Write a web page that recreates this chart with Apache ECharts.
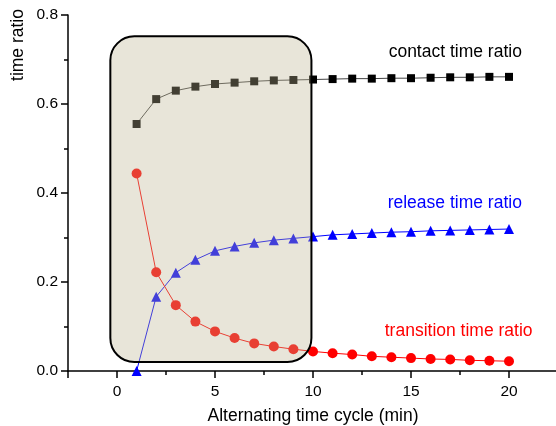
<!DOCTYPE html>
<html>
<head>
<meta charset="utf-8">
<script src="https://cdn.jsdelivr.net/npm/echarts@6/dist/echarts.min.js"></script>
<style>
    html, body { margin: 0; padding: 0; background: #fff; }
    #chart { width: 556px; height: 426px; }
</style>
</head>
<body>
<div id="chart"></div>
<script>
const FONT = 'Liberation Sans, Arial, sans-serif'

// x: alternating time cycle (min)
const cycles = [1, 2, 3, 4, 5, 6, 7, 8, 9, 10, 11, 12, 13, 14, 15, 16, 17, 18, 19, 20]
const contactRatio = [0.555, 0.611, 0.630, 0.639, 0.645, 0.648, 0.651, 0.653, 0.654, 0.655,
    0.656, 0.657, 0.657, 0.658, 0.658, 0.659, 0.660, 0.660, 0.661, 0.661]
const releaseRatio = [0.000, 0.167, 0.221, 0.250, 0.270, 0.280, 0.288, 0.294, 0.298, 0.302,
    0.306, 0.308, 0.310, 0.312, 0.313, 0.315, 0.316, 0.317, 0.318, 0.319]
const transitionRatio = [0.444, 0.222, 0.148, 0.111, 0.089, 0.074, 0.062, 0.055, 0.049, 0.044,
    0.040, 0.037, 0.033, 0.031, 0.029, 0.027, 0.026, 0.024, 0.023, 0.022]

// highlighted region (data coords) and label anchors
const boxCorners = [[-0.34, 0.752], [9.92, 0.02]]
const seriesLabels = [
    { text: 'contact time ratio', at: [13.86, 0.717], color: '#000' },
    { text: 'release time ratio', at: [13.81, 0.378], color: '#0000ff' },
    { text: 'transition time ratio', at: [13.66, 0.089], color: '#ff0000' }
]

const pair = arr => cycles.map((c, i) => [c, arr[i]])

const chart = echarts.init(document.getElementById('chart'))

const axisCommon = {
    axisLine: { onZero: false, lineStyle: { color: '#000', width: 1.5 } },
    axisTick: { inside: false, length: 7, lineStyle: { color: '#000', width: 1.5 } },
    minorTick: { show: true, splitNumber: 2, length: 4, lineStyle: { color: '#000', width: 1.5 } },
    splitLine: { show: false },
    axisLabel: { color: '#000', fontSize: 15.5, fontFamily: FONT }
}

chart.setOption({
    animation: false,
    grid: { left: 68, right: -2, top: 15, bottom: 55, containLabel: false, outerBoundsMode: 'none' },
    xAxis: Object.assign({}, axisCommon, {
        type: 'value',
        min: -2.5,
        max: 22.5,
        splitNumber: 5,
        name: 'Alternating time cycle (min)',
        nameLocation: 'middle',
        nameGap: 36,
        nameTextStyle: { color: '#000', fontSize: 17.5, fontFamily: FONT },
        axisLabel: Object.assign({}, axisCommon.axisLabel, {
            showMinLabel: false,
            showMaxLabel: false,
            margin: 13
        })
    }),
    yAxis: Object.assign({}, axisCommon, {
        type: 'value',
        min: 0,
        max: 0.8,
        interval: 0.2,
        axisLabel: Object.assign({}, axisCommon.axisLabel, {
            margin: 10,
            formatter: v => v.toFixed(1)
        })
    }),
    series: [
        {
            name: 'contact time ratio',
            type: 'line',
            data: pair(contactRatio),
            symbol: 'rect',
            symbolSize: 8,
            itemStyle: { color: '#000' },
            lineStyle: { color: '#444', width: 1 }
        },
        {
            name: 'release time ratio',
            type: 'line',
            data: pair(releaseRatio),
            symbol: 'triangle',
            symbolSize: 10,
            itemStyle: { color: '#0000ff' },
            lineStyle: { color: '#0000ff', width: 1 }
        },
        {
            name: 'transition time ratio',
            type: 'line',
            data: pair(transitionRatio),
            symbol: 'circle',
            symbolSize: 10,
            itemStyle: { color: '#ff0000' },
            lineStyle: { color: '#ff0000', width: 1 }
        }
    ]
})

// overlay box + texts, placed through the axes
const p1 = chart.convertToPixel({ gridIndex: 0 }, boxCorners[0])
const p2 = chart.convertToPixel({ gridIndex: 0 }, boxCorners[1])

const graphics = [
    {
        type: 'rect',
        z: 100,
        shape: { x: p1[0], y: p1[1], width: p2[0] - p1[0], height: p2[1] - p1[1], r: 24 },
        style: { fill: 'rgba(190,180,145,0.35)', stroke: '#000', lineWidth: 2 }
    },
    {
        type: 'text',
        z: 100,
        x: 18,
        y: 45,
        rotation: Math.PI / 2,
        style: {
            text: 'time ratio', fill: '#000', font: '17.5px ' + FONT,
            align: 'center', verticalAlign: 'middle'
        }
    }
]
seriesLabels.forEach(l => {
    const p = chart.convertToPixel({ gridIndex: 0 }, l.at)
    graphics.push({
        type: 'text',
        z: 100,
        x: p[0],
        y: p[1],
        style: { text: l.text, fill: l.color, font: '17.5px ' + FONT, align: 'left', verticalAlign: 'middle' }
    })
})
chart.setOption({ graphic: graphics })
</script>
</body>
</html>
